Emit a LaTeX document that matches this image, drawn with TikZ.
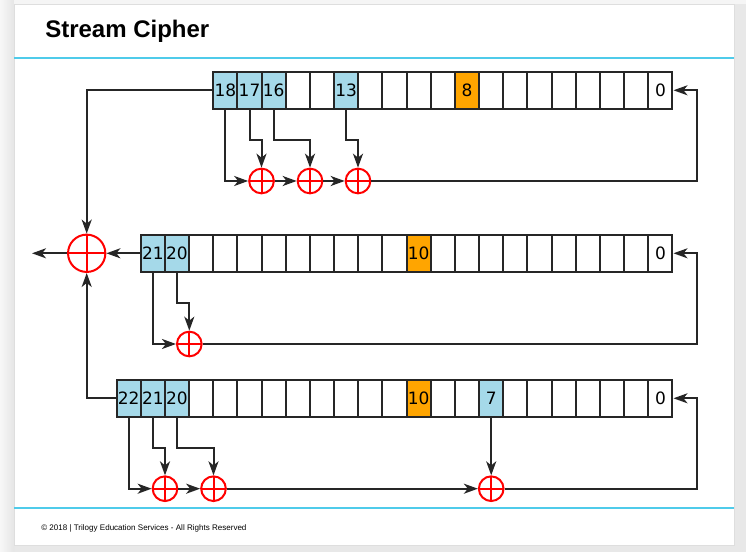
\documentclass[tikz,border=0pt]{standalone}
\usepackage{fontspec}
\setmainfont{DejaVu Sans}
\newfontfamily\slidefont{Liberation Sans}
\usetikzlibrary{arrows.meta}

\definecolor{tapblue}{HTML}{A5D9E9}
\definecolor{keyorange}{HTML}{FFA500}
\definecolor{ruleblue}{HTML}{4FCBEA}

\begin{document}
\begin{tikzpicture}[
  x=0.75pt, y=-0.75pt,
  cell/.style={draw=black!85, line width=1.5pt, minimum width=18.13pt, minimum height=27.4pt, inner sep=0pt, font=\fontsize{12.75}{14}\selectfont},
  tap/.style={cell, fill=tapblue},
  key/.style={cell, fill=keyorange},
  xor/.style={circle, draw=red, fill=white, line width=1.5pt, minimum size=18.5pt, inner sep=0pt,
    path picture={\draw[red, line width=1.5pt] (path picture bounding box.north) -- (path picture bounding box.south)
      (path picture bounding box.west) -- (path picture bounding box.east);}},
  bigxor/.style={xor, minimum size=28pt},
  wire/.style={draw=black!85, line width=1.5pt},
  flow/.style={wire, -{Stealth[length=10.5pt, width=7.5pt, inset=3pt]}}
]

% Slide
\useasboundingbox (0,0) rectangle (746,552);
\fill[black!9] (0,0) rectangle (746,552);
\shade[left color=black!3, right color=black!10] (0,0) rectangle (14,552);
\fill[black!4] (14,0) rectangle (746,4);
\fill[white, draw=black!13, line width=0.6pt] (14,4) rectangle (734,545);
\node[anchor=base west, inner sep=0pt, font=\slidefont\bfseries\fontsize{18}{20}\selectfont] (title) at (45,38) {Stream Cipher};
\node[anchor=base west, inner sep=0pt, font=\slidefont\fontsize{6.03}{7}\selectfont] (footer) at (41,530) {© 2018 | Trilogy Education Services - All Rights Reserved};
\draw[ruleblue, line width=1.5pt] (14,58) -- (734,58);
\draw[ruleblue, line width=1.5pt] (14,508) -- (734,508);

% Registers (cell n is at 660.4 - n*24.17)
\foreach \i in {1,...,7,9,10,11,12,14,15} \node[cell] (a\i) at ({660.4-\i*24.17}, 90.3) {};
\foreach \i in {18,17,16,13} \node[tap] (a\i) at ({660.4-\i*24.17}, 90.3) {\i};
\node[key] (a8) at ({660.4-8*24.17}, 90.3) {8};
\node[cell] (a0) at (660.4, 90.3) {0};

\foreach \i in {1,...,9,11,12,13,14,15,16,17,18,19} \node[cell] (b\i) at ({660.4-\i*24.17}, 253.3) {};
\foreach \i in {21,20} \node[tap] (b\i) at ({660.4-\i*24.17}, 253.3) {\i};
\node[key] (b10) at ({660.4-10*24.17}, 253.3) {10};
\node[cell] (b0) at (660.4, 253.3) {0};

\foreach \i in {1,...,6,8,9,11,12,13,14,15,16,17,18,19} \node[cell] (c\i) at ({660.4-\i*24.17}, 398.3) {};
\foreach \i in {22,21,20,7} \node[tap] (c\i) at ({660.4-\i*24.17}, 398.3) {\i};
\node[key] (c10) at ({660.4-10*24.17}, 398.3) {10};
\node[cell] (c0) at (660.4, 398.3) {0};

% XOR gates
\node[bigxor] (mix) at (86.7, 253.3) {};
\node[xor] (a1x) at (261.5, 181) {};
\node[xor] (a2x) at (310, 181) {};
\node[xor] (a3x) at (358, 181) {};
\node[xor] (bx) at (189.3, 344) {};
\node[xor] (c1x) at (165, 488.7) {};
\node[xor] (c2x) at (213.5, 488.7) {};
\node[xor] (c3x) at (491.21, 488.7) {};

\coordinate (out) at (32, 253.3);
\coordinate (arun) at (696.5, 90.3);
\coordinate (brun) at (696.5, 253.3);
\coordinate (crun) at (696.5, 398.3);

% Output
\draw[flow] (a18.west) -| (mix.north);
\draw[flow] (b21.west) -- (mix.east);
\draw[flow] (c22.west) -| (mix.south);
\draw[flow] (mix.west) -- (out);

% Top register
\draw[flow] (a18.south) |- (a1x.west);
\draw[flow] (a17.south) -- ++(0,30.5) -| (a1x.north);
\draw[flow] (a16.south) -- ++(0,30.5) -| (a2x.north);
\draw[flow] (a13.south) -- ++(0,30.5) -| (a3x.north);
\draw[flow] (a1x.east) -- (a2x.west);
\draw[flow] (a2x.east) -- (a3x.west);
\draw[flow] (a3x.east) -| (arun) -- (a0.east);

% Middle register
\draw[flow] (b21.south) |- (bx.west);
\draw[flow] (b20.south) -- ++(0,30) -| (bx.north);
\draw[flow] (bx.east) -| (brun) -- (b0.east);

% Bottom register
\draw[flow] (c22.south) |- (c1x.west);
\draw[flow] (c21.south) -- ++(0,30) -| (c1x.north);
\draw[flow] (c20.south) -- ++(0,30) -| (c2x.north);
\draw[flow] (c7.south) -- (c3x.north);
\draw[flow] (c1x.east) -- (c2x.west);
\draw[flow] (c2x.east) -- (c3x.west);
\draw[flow] (c3x.east) -| (crun) -- (c0.east);

\end{tikzpicture}
\end{document}
